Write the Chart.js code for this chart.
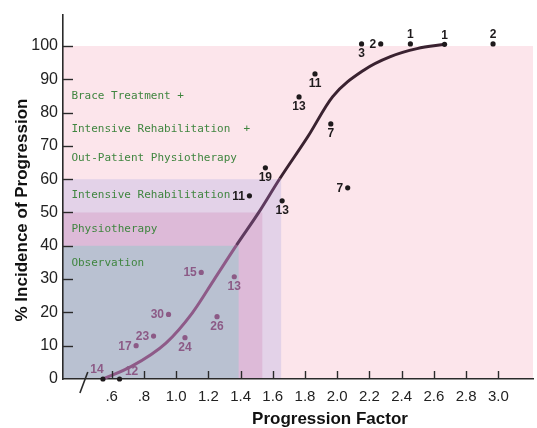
<!DOCTYPE html>
<html><head><meta charset="utf-8">
<script src="https://cdn.jsdelivr.net/npm/chart.js@4.4.0/dist/chart.umd.min.js"></script>
<style>html,body{margin:0;padding:0;background:#fff;}</style>
</head><body>
<canvas id="c" width="537" height="428"></canvas>
<script>
// ---- data ----
const xTickValues = [0.6,0.8,1.0,1.2,1.4,1.6,1.8,2.0,2.2,2.4,2.6,2.8,3.0];
const xTickLabels = ['.6','.8','1.0','1.2','1.4','1.6','1.8','2.0','2.2','2.4','2.6','2.8','3.0'];
const yTickValues = [0,10,20,30,40,50,60,70,80,90,100];

const curveX = [0.545,0.72,0.937,1.1,1.234,1.375,1.51,1.644,1.818,1.972,2.167,2.33,2.495,2.67];
const curveY = [0,3.7,10.8,19.8,29.7,40.2,49.8,60.2,72.8,84.8,92.8,96.8,99.2,100.5];

const pointX = [0.546,0.649,0.752,0.86,0.953,1.055,1.156,1.254,1.361,1.455,1.554,1.658,1.763,1.862,1.96,2.065,2.151,2.27,2.454,2.666,2.967];
const pointY = [0,0,10,12.9,19.4,12.4,32,18.7,30.7,55,63.4,53.5,84.7,91.6,76.6,57.4,100.6,100.6,100.6,100.5,100.6];
const pointLabels = ['14','12','17','23','30','24','15','26','13','11','19','13','13','11','7','7','3','2','1','1','2'];
const labelPlacement = ['al','ar','l','l','l','b','l','b','b','l','b','b','b','b','b','l','b','l','a','a','a'];

const zoneNames = ['Intensive Rehabilitation','Physiotherapy','Observation'];
const zoneMaxX = [1.652,1.535,1.388];
const zoneMaxY = [60,50,40];

const annotationTexts = ['Brace Treatment +','Intensive Rehabilitation  +','Out-Patient Physiotherapy','Intensive Rehabilitation','Physiotherapy','Observation'];
const annotationY = [85,75,66.4,55.3,45,34.8];
const annotationX = 0.35;

const xTitle = 'Progression Factor';
const yTitle = '% Incidence of Progression';

// ---- styles ----
const PINK = '#fce5eb';
const ZONE_COLORS = ['#e3d2e8','#ddbad8','#b9c1d1'];
const MAUVE = '#8c5a86';
const DARK = '#1e1a1c';
const AXIS = '#2a2a2a';
const GREEN = '#3f853f';
const TICK_FONT = '"Liberation Sans", Arial, sans-serif';

const decor = {
  id: 'decor',
  beforeDraw(chart) {
    const {ctx, chartArea: a, scales: {x, y}} = chart;
    ctx.save();
    ctx.fillStyle = '#fff';
    ctx.fillRect(0, 0, chart.width, chart.height);
    ctx.fillStyle = PINK;
    const top100 = y.getPixelForValue(100), bot = y.getPixelForValue(0);
    ctx.fillRect(a.left, top100, a.right - a.left, bot - top100);
    zoneMaxX.forEach((mx, i) => {
      const r = x.getPixelForValue(mx), t = y.getPixelForValue(zoneMaxY[i]);
      ctx.fillStyle = ZONE_COLORS[i];
      ctx.fillRect(a.left, t, r - a.left, bot - t);
    });
    ctx.restore();
  },
  afterDraw(chart) {
    const {ctx, chartArea: a, scales: {x, y}} = chart;
    ctx.save();
    // inward tick marks
    ctx.strokeStyle = AXIS; ctx.lineWidth = 1.4;
    yTickValues.forEach(v => {
      if (v === 0) return;
      const py = Math.round(y.getPixelForValue(v)) + 0.5;
      ctx.beginPath(); ctx.moveTo(a.left, py); ctx.lineTo(a.left + 10, py); ctx.stroke();
    });
    xTickValues.forEach(v => {
      const px = Math.round(x.getPixelForValue(v)) + 0.5;
      ctx.beginPath(); ctx.moveTo(px, a.bottom); ctx.lineTo(px, a.bottom - 8); ctx.stroke();
    });
    // axis break slash
    ctx.lineWidth = 1.6;
    ctx.beginPath();
    ctx.moveTo(x.getPixelForValue(0.403), y.getPixelForValue(-4.2));
    ctx.lineTo(x.getPixelForValue(0.452), y.getPixelForValue(2.1));
    ctx.stroke();

    // annotation texts
    ctx.fillStyle = GREEN;
    ctx.font = '11px "DejaVu Sans Mono", monospace';
    ctx.textAlign = 'left'; ctx.textBaseline = 'middle';
    annotationTexts.forEach((t, i) => {
      ctx.fillText(t, x.getPixelForValue(annotationX), y.getPixelForValue(annotationY[i]));
    });

    // point labels
    ctx.font = 'bold 12px "Liberation Sans", Arial, sans-serif';
    pointX.forEach((xv, i) => {
      const px = x.getPixelForValue(xv), py = y.getPixelForValue(pointY[i]);
      ctx.fillStyle = pointY[i] < 40 ? MAUVE : DARK;
      const p = labelPlacement[i];
      let tx = px, ty = py, al = 'center';
      if (p === 'a') ty = py - 9;
      else if (p === 'b') ty = py + 10;
      else if (p === 'l') { tx = px - 4.5; al = 'right'; ty = py + 0.5; }
      else if (p === 'al') { tx = px - 6; ty = py - 9; }
      else if (p === 'ar') { tx = px + 12; ty = py - 7; }
      ctx.textAlign = al; ctx.textBaseline = 'middle';
      ctx.fillText(pointLabels[i], tx, ty);
    });

    // axis titles
    ctx.fillStyle = '#111';
    ctx.font = 'bold 17px "Liberation Sans", Arial, sans-serif';
    ctx.textAlign = 'center'; ctx.textBaseline = 'middle';
    ctx.fillText(xTitle, 330, 419);
    ctx.translate(22, 210);
    ctx.rotate(-Math.PI / 2);
    ctx.fillText(yTitle, 0, 0);
    ctx.restore();
  }
};

const inObs = (xv, yv) => yv > 0 && yv < zoneMaxY[2] && xv < zoneMaxX[2];

new Chart(document.getElementById('c'), {
  type: 'scatter',
  data: {
    datasets: [
      {
        type: 'line',
        data: curveX.map((v, i) => ({x: v, y: curveY[i]})),
        borderWidth: 3,
        pointRadius: 0,
        fill: false,
        cubicInterpolationMode: 'monotone',
        clip: false,
        segment: {
          borderColor: c => c.p0.parsed.y < 40 ? '#8e5a88' : (c.p0.parsed.y < 60 ? '#5e3a5e' : '#3a2230')
        },
        borderColor: '#3a2230',
        order: 2
      },
      {
        type: 'scatter',
        data: pointX.map((v, i) => ({x: v, y: pointY[i]})),
        pointRadius: 2.6,
        pointBorderWidth: 0,
        pointBackgroundColor: pointX.map((v, i) => inObs(v, pointY[i]) ? MAUVE : DARK),
        clip: false,
        order: 1
      }
    ]
  },
  options: {
    responsive: false,
    animation: false,
    devicePixelRatio: 1,
    layout: {padding: {top: 15, left: 0, right: 0, bottom: 0}},
    plugins: {legend: {display: false}, tooltip: {enabled: false}},
    scales: {
      x: {
        type: 'linear', min: 0.298, max: 3.215,
        afterBuildTicks: s => { s.ticks = xTickValues.map(v => ({value: v})); },
        afterFit: s => { s.height = 49; },
        ticks: {
          callback: (v, i) => xTickLabels[i],
          autoSkip: false, maxRotation: 0, padding: 9,
          color: '#222', font: {family: TICK_FONT, size: 15}
        },
        grid: {display: false, drawTicks: false},
        border: {display: true, color: AXIS, width: 1.6}
      },
      y: {
        type: 'linear', min: 0, max: 109.3,
        afterBuildTicks: s => { s.ticks = yTickValues.map(v => ({value: v})); },
        afterFit: s => { s.width = 63; },
        ticks: {
          callback: v => String(v),
          padding: 5,
          color: '#222', font: {family: TICK_FONT, size: 16}
        },
        grid: {display: false, drawTicks: false},
        border: {display: true, color: AXIS, width: 1.6}
      }
    }
  },
  plugins: [decor]
});
</script>
</body></html>
